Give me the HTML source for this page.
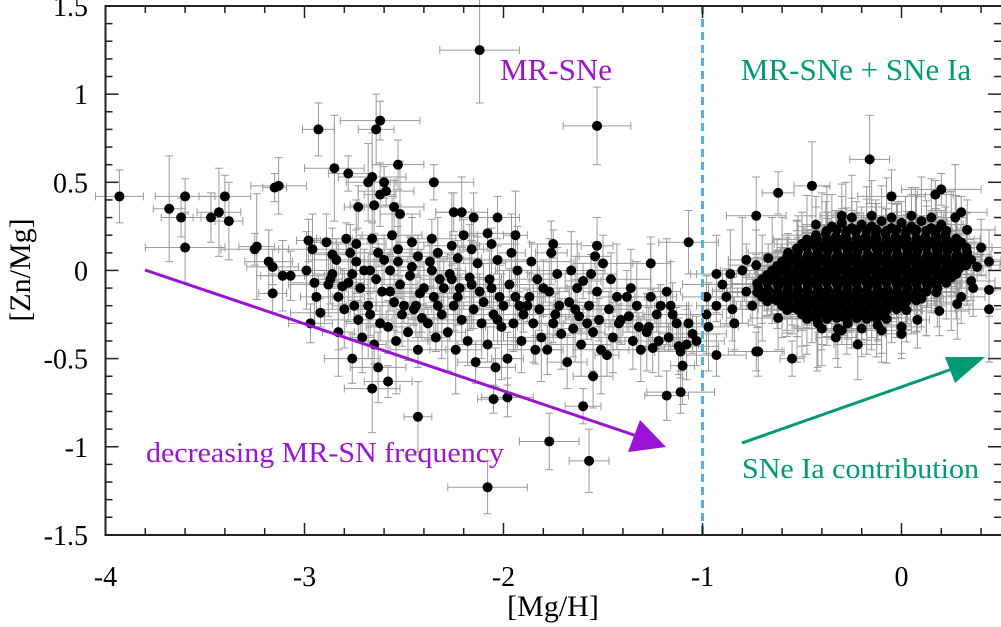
<!DOCTYPE html>
<html><head><meta charset="utf-8"><style>
html,body{margin:0;padding:0;background:#fff;}
svg{display:block;}
text{font-family:"Liberation Serif","Times New Roman",Times,serif;}
</style></head><body>
<svg id="chart" width="1001" height="627" viewBox="0 0 1001 627" xmlns="http://www.w3.org/2000/svg">
<g id="err"></g>
<g id="pts"></g>
<g id="axes"></g>
<g id="ann">
<text x="553" y="616" text-anchor="middle" font-size="30">[Mg/H]</text>
<text transform="translate(30,270) rotate(-90)" text-anchor="middle" font-size="30">[Zn/Mg]</text>
<text x="556" y="80" text-anchor="middle" font-size="31" fill="#9b14d6">MR-SNe</text>
<text x="856" y="80" text-anchor="middle" font-size="31" fill="#009a73">MR-SNe + SNe Ia</text>
<text x="146" y="462" font-size="29" fill="#9b14d6" textLength="358" lengthAdjust="spacingAndGlyphs">decreasing MR-SN frequency</text>
<text x="742" y="478" font-size="29" fill="#009a73" textLength="237" lengthAdjust="spacingAndGlyphs">SNe Ia contribution</text>
<g>
<line x1="145" y1="270" x2="640" y2="437" stroke="#9b14d6" stroke-width="3"/>
<polygon points="666,447 628,452 640,420" fill="#9b14d6"/>
</g>
<g>
<line x1="742" y1="443" x2="958" y2="367" stroke="#009a73" stroke-width="3"/>
<polygon points="985,357 955,383 945,357" fill="#009a73"/>
</g>
</g>
</svg>
<script>
const xTicks=[-4,-3,-2,-1,0];
const yTicks=[1.5,1,0.5,0,-0.5,-1,-1.5];
const yTickLabels=["1.5","1","0.5","0","-0.5","-1","-1.5"];
const metalPoorStars=[[-3.93,0.42],[-3.68,0.35],[-3.6,0.42],[-3.62,0.3],[-3.6,0.13],[-3.47,0.3],[-3.4,0.42],[-3.38,0.28],[-3.43,0.33],[-3.25,0.12],[-3.15,0.47],[-3.13,0.48],[-3.18,0.05],[-2.93,0.8],[-2.85,0.58],[-2.78,0.55],
[-2.62,0.85],[-2.64,0.8],[-2.53,0.6],[-2.73,0.36],[-2.68,0.5],[-2.66,0.53],[-2.6,0.5],[-2.59,0.45],[-2.65,0.37],[-2.62,0.43],[-2.55,0.36],[-2.52,0.32],[-2.35,0.5],[-2.25,0.33],[-2.21,0.33],[-2.15,0.3],[-2.03,0.3],[-1.53,0.82],[-1.94,0.2],[-2.08,0.21],[-1.75,0.15],[-1.53,0.14],[-1.07,0.16],[-1.26,0.04],[-2.12,1.25],
[-1.6,-0.77],[-1.98,-0.72],[-2.43,-0.83],[-1.18,-0.71],[-1.11,-0.69],[-1.1,-0.54],[-2.66,-0.67],[-2.58,-0.63],[-2.05,-0.73],[-1.77,-0.97],[-1.57,-1.08],[-2.08,-1.23],
[-3.24,0.135],[-3.16,0.02],[-3.16,-0.13],[-3.11,-0.03],[-3.07,-0.03],[-2.98,0.17],[-2.99,0.0],[-2.95,-0.07],[-2.94,-0.15],[-2.92,-0.24],[-2.89,0.16],[-2.88,-0.08],[-2.86,0.09],[-2.83,-0.15],[-2.81,-0.09],[-2.97,-0.3],[-2.96,0.12],
[-2.87,-0.05],[-2.84,0.06],[-2.8,-0.22],[-2.83,-0.35],[-2.79,0.18],[-2.86,-0.02],
[-2.77,0.1],[-2.74,0.05],[-2.76,-0.02],[-2.72,-0.1],[-2.75,-0.2],[-2.73,-0.28],[-2.71,-0.38],[-2.76,-0.5],[-2.7,0.0],[-2.78,-0.07],[-2.74,0.15],
[-2.66,0.18],[-2.63,0.1],[-2.67,0.0],[-2.64,-0.05],[-2.61,-0.12],[-2.68,-0.2],[-2.62,-0.3],[-2.65,-0.42],[-2.63,-0.55],[-2.6,0.06],[-2.67,-0.25],
[-2.56,0.2],[-2.53,0.12],[-2.57,0.0],[-2.52,-0.08],[-2.55,-0.18],[-2.51,-0.25],[-2.58,-0.32],[-2.54,-0.4],[-2.5,-0.2],[-2.57,-0.12],[-2.53,0.05],
[-2.46,0.16],[-2.43,0.08],[-2.47,-0.03],[-2.42,-0.13],[-2.45,-0.22],[-2.41,-0.27],[-2.48,-0.35],[-2.44,-0.2],[-2.4,-0.1],[-2.46,0.02],[-2.43,-0.45],
[-2.36,0.18],[-2.33,0.1],[-2.37,0.05],[-2.32,-0.05],[-2.35,-0.15],[-2.31,-0.25],[-2.38,-0.3],[-2.34,-0.38],[-2.3,-0.1],[-2.36,0.0],[-2.33,-0.2],
[-2.26,0.14],[-2.23,0.07],[-2.27,-0.02],[-2.22,-0.1],[-2.25,-0.2],[-2.21,-0.28],[-2.28,-0.35],[-2.24,-0.45],[-2.2,0.2],[-2.26,-0.05],[-2.23,-0.15],
[-2.16,0.12],[-2.13,0.04],[-2.17,-0.04],[-2.12,-0.12],[-2.15,-0.22],[-2.11,-0.3],[-2.18,-0.4],[-2.14,-0.52],[-2.1,-0.18],[-2.16,-0.08],
[-2.06,0.15],[-2.03,0.06],[-2.07,-0.05],[-2.02,-0.15],[-2.05,-0.25],[-2.01,-0.32],[-2.08,-0.42],[-2.04,-0.55],[-2.0,-0.2],[-2.06,-0.1],[-2.03,-0.28],
[-1.96,0.1],[-1.93,0.0],[-1.97,-0.08],[-1.92,-0.2],[-1.95,-0.3],[-1.91,-0.4],[-1.98,-0.5],[-1.94,-0.15],[-1.9,-0.25],
[-1.86,0.05],[-1.83,-0.05],[-1.87,-0.15],[-1.82,-0.22],[-1.85,-0.3],[-1.81,-0.38],[-1.88,-0.2],[-1.84,-0.45],[-1.8,-0.1],
[-1.76,0.1],[-1.73,-0.02],[-1.77,-0.12],[-1.72,-0.2],[-1.75,-0.3],[-1.71,-0.36],[-1.78,-0.45],[-1.74,-0.25],
[-1.66,0.0],[-1.63,-0.1],[-1.67,-0.18],[-1.62,-0.26],[-1.65,-0.33],[-1.61,-0.42],[-1.68,-0.52],[-1.64,-0.22],[-1.6,-0.06],
[-1.56,-0.02],[-1.53,-0.12],[-1.57,-0.2],[-1.52,-0.28],[-1.55,-0.35],[-1.51,-0.45],[-1.58,-0.3],[-1.54,0.08],[-1.5,0.04],[-1.55,-0.6],
[-1.46,-0.05],[-1.43,-0.15],[-1.47,-0.22],[-1.42,-0.3],[-1.45,-0.38],[-1.41,-0.28],[-1.48,-0.48],
[-1.36,-0.1],[-1.33,-0.2],[-1.37,-0.26],[-1.32,-0.32],[-1.35,-0.4],[-1.31,-0.45],[-1.38,-0.15],
[-1.26,-0.15],[-1.23,-0.25],[-1.27,-0.32],[-1.22,-0.4],[-1.25,-0.44],[-1.21,-0.2],[-1.28,-0.35],
[-1.16,-0.2],[-1.13,-0.3],[-1.17,-0.38],[-1.12,-0.43],[-1.15,-0.25],[-1.11,-0.46],[-1.18,-0.12],
[-1.07,-0.3],[-1.05,-0.36],[-1.08,-0.42],[-1.03,-0.4]];
const metalRichStars=[[-0.98,-0.15],[-0.98,-0.25],[-0.97,-0.32],[-0.93,-0.2],[-0.9,-0.08],[-0.88,-0.15],[-0.85,-0.22],[-0.84,-0.3],[-0.8,0.0],[-0.78,-0.12],[-0.75,-0.2],[-0.73,0.03],[-0.72,-0.46],
[-0.62,0.44],[-0.73,0.31],[-0.16,0.63],[0.2,0.46],[0.17,0.43],[0.4,0.13],[0.44,0.05],[0.44,-0.11],[0.44,-0.22],[-0.55,-0.5],[-0.73,-0.46],[-0.22,-0.42],[0.0,-0.36],[-0.93,-0.48],[-0.93,-0.02],[-0.86,-0.02],[-0.78,0.06],[-0.67,0.07],[-0.43,0.26],[-0.3,0.31],[-0.05,0.42],[0.27,0.3],[0.33,0.23],[0.35,-0.06],[0.28,-0.19],[0.19,-0.23],[-0.33,-0.38],[-0.32,-0.33],[-0.45,0.48],[0.3,0.33],[0.38,0.02],[0.36,-0.1],
[-0.35,0.25],[-0.3,0.27],[-0.25,0.24],[-0.2,0.26],[-0.15,0.25],[-0.1,0.28],[-0.05,0.24],[0.0,0.27],[0.05,0.25],[0.1,0.28],[0.15,0.24],[0.2,0.26],
[-0.43,0.2],[-0.38,0.21],[-0.33,0.19],[-0.28,0.2],[-0.23,0.22],[-0.18,0.19],[-0.13,0.2],[-0.08,0.21],[-0.03,0.19],[0.02,0.2],[0.07,0.22],[0.12,0.19],[0.17,0.21],[0.22,0.2],
[-0.5,0.15],[-0.45,0.16],[-0.4,0.14],[-0.35,0.15],[-0.3,0.16],[-0.25,0.14],[-0.2,0.15],[-0.15,0.16],[-0.1,0.14],[-0.05,0.15],[0.0,0.16],[0.05,0.14],[0.1,0.15],[0.15,0.16],[0.2,0.14],[0.25,0.15],[0.3,0.16],
[-0.57,0.1],[-0.52,0.11],[-0.47,0.09],[-0.42,0.1],[-0.37,0.11],[-0.32,0.09],[-0.27,0.1],[-0.22,0.11],[-0.17,0.09],[-0.12,0.1],[-0.07,0.11],[-0.02,0.09],[0.03,0.1],[0.08,0.11],[0.13,0.09],[0.18,0.1],[0.23,0.11],[0.28,0.09],
[-0.6,0.05],[-0.55,0.06],[-0.5,0.04],[-0.45,0.05],[-0.4,0.06],[-0.35,0.04],[-0.3,0.05],[-0.25,0.06],[-0.2,0.04],[-0.15,0.05],[-0.1,0.06],[-0.05,0.04],[0.0,0.05],[0.05,0.06],[0.1,0.04],[0.15,0.05],[0.2,0.06],[0.25,0.04],[0.3,0.05],
[-0.65,0.0],[-0.6,0.01],[-0.55,-0.01],[-0.5,0.0],[-0.45,0.01],[-0.4,-0.01],[-0.35,0.0],[-0.3,0.01],[-0.25,-0.01],[-0.2,0.0],[-0.15,0.01],[-0.1,-0.01],[-0.05,0.0],[0.0,0.01],[0.05,-0.01],[0.1,0.0],[0.15,0.01],[0.2,-0.01],[0.25,0.0],[0.29,0.01],
[-0.7,-0.05],[-0.65,-0.04],[-0.6,-0.06],[-0.55,-0.05],[-0.5,-0.04],[-0.45,-0.06],[-0.4,-0.05],[-0.35,-0.04],[-0.3,-0.06],[-0.25,-0.05],[-0.2,-0.04],[-0.15,-0.06],[-0.1,-0.05],[-0.05,-0.04],[0.0,-0.06],[0.05,-0.05],[0.1,-0.04],[0.15,-0.06],[0.2,-0.05],[0.25,-0.04],
[-0.72,-0.1],[-0.67,-0.11],[-0.62,-0.09],[-0.57,-0.1],[-0.52,-0.11],[-0.47,-0.09],[-0.42,-0.1],[-0.37,-0.11],[-0.32,-0.09],[-0.27,-0.1],[-0.22,-0.11],[-0.17,-0.09],[-0.12,-0.1],[-0.07,-0.11],[-0.02,-0.09],[0.03,-0.1],[0.08,-0.11],[0.13,-0.09],[0.18,-0.1],
[-0.7,-0.15],[-0.65,-0.16],[-0.6,-0.14],[-0.55,-0.15],[-0.5,-0.16],[-0.45,-0.14],[-0.4,-0.15],[-0.35,-0.16],[-0.3,-0.14],[-0.25,-0.15],[-0.2,-0.16],[-0.15,-0.14],[-0.1,-0.15],[-0.05,-0.16],[0.0,-0.14],[0.05,-0.15],[0.1,-0.16],
[-0.6,-0.2],[-0.55,-0.21],[-0.5,-0.19],[-0.45,-0.2],[-0.4,-0.21],[-0.35,-0.19],[-0.3,-0.2],[-0.25,-0.21],[-0.2,-0.19],[-0.15,-0.2],[-0.1,-0.21],[-0.05,-0.19],[0.0,-0.2],
[-0.5,-0.25],[-0.45,-0.26],[-0.4,-0.24],[-0.35,-0.25],[-0.3,-0.26],[-0.25,-0.24],[-0.2,-0.25],[-0.15,-0.26],[-0.1,-0.25],
[-0.42,-0.3],[-0.27,-0.3],[-0.12,-0.31],[0.08,-0.28],[-0.62,-0.27],[0.3,-0.15],[0.33,0.1],[0.35,0.06],
[-0.25,0.3],[-0.15,0.31],[-0.05,0.3],[0.05,0.31],[0.15,0.3],
[-0.375,0.225],[-0.325,0.23],[-0.275,0.225],[-0.225,0.23],[-0.175,0.225],[-0.125,0.23],[-0.075,0.225],[-0.025,0.23],[0.025,0.225],[0.075,0.23],[0.125,0.225],[0.175,0.23],[0.225,0.225],
[-0.475,0.175],[-0.425,0.18],[-0.375,0.175],[-0.325,0.18],[-0.275,0.175],[-0.225,0.18],[-0.175,0.175],[-0.125,0.18],[-0.075,0.175],[-0.025,0.18],[0.025,0.175],[0.075,0.18],[0.125,0.175],[0.175,0.18],[0.225,0.175],[0.275,0.18],
[-0.525,0.125],[-0.475,0.13],[-0.425,0.125],[-0.375,0.13],[-0.325,0.125],[-0.275,0.13],[-0.225,0.125],[-0.175,0.13],[-0.125,0.125],[-0.075,0.13],[-0.025,0.125],[0.025,0.13],[0.075,0.125],[0.125,0.13],[0.175,0.125],[0.225,0.13],[0.275,0.125],[0.325,0.13],
[-0.575,0.075],[-0.525,0.08],[-0.475,0.075],[-0.425,0.08],[-0.375,0.075],[-0.325,0.08],[-0.275,0.075],[-0.225,0.08],[-0.175,0.075],[-0.125,0.08],[-0.075,0.075],[-0.025,0.08],[0.025,0.075],[0.075,0.08],[0.125,0.075],[0.175,0.08],[0.225,0.075],[0.275,0.08],[0.325,0.075],
[-0.625,0.025],[-0.575,0.03],[-0.525,0.025],[-0.475,0.03],[-0.425,0.025],[-0.375,0.03],[-0.325,0.025],[-0.275,0.03],[-0.225,0.025],[-0.175,0.03],[-0.125,0.025],[-0.075,0.03],[-0.025,0.025],[0.025,0.03],[0.075,0.025],[0.125,0.03],[0.175,0.025],[0.225,0.03],[0.275,0.025],[0.325,0.03],
[-0.675,-0.025],[-0.625,-0.02],[-0.575,-0.025],[-0.525,-0.02],[-0.475,-0.025],[-0.425,-0.02],[-0.375,-0.025],[-0.325,-0.02],[-0.275,-0.025],[-0.225,-0.02],[-0.175,-0.025],[-0.125,-0.02],[-0.075,-0.025],[-0.025,-0.02],[0.025,-0.025],[0.075,-0.02],[0.125,-0.025],[0.175,-0.02],[0.225,-0.025],[0.275,-0.02],
[-0.725,-0.075],[-0.675,-0.07],[-0.625,-0.075],[-0.575,-0.07],[-0.525,-0.075],[-0.475,-0.07],[-0.425,-0.075],[-0.375,-0.07],[-0.325,-0.075],[-0.275,-0.07],[-0.225,-0.075],[-0.175,-0.07],[-0.125,-0.075],[-0.075,-0.07],[-0.025,-0.075],[0.025,-0.07],[0.075,-0.075],[0.125,-0.07],[0.175,-0.075],[0.225,-0.07],
[-0.725,-0.125],[-0.675,-0.12],[-0.625,-0.125],[-0.575,-0.12],[-0.525,-0.125],[-0.475,-0.12],[-0.425,-0.125],[-0.375,-0.12],[-0.325,-0.125],[-0.275,-0.12],[-0.225,-0.125],[-0.175,-0.12],[-0.125,-0.125],[-0.075,-0.12],[-0.025,-0.125],[0.025,-0.12],[0.075,-0.125],[0.125,-0.12],[0.175,-0.125],
[-0.675,-0.175],[-0.625,-0.17],[-0.575,-0.175],[-0.525,-0.17],[-0.475,-0.175],[-0.425,-0.17],[-0.375,-0.175],[-0.325,-0.17],[-0.275,-0.175],[-0.225,-0.17],[-0.175,-0.175],[-0.125,-0.17],[-0.075,-0.175],[-0.025,-0.17],[0.025,-0.175],[0.075,-0.17],
[-0.575,-0.225],[-0.525,-0.22],[-0.475,-0.225],[-0.425,-0.22],[-0.375,-0.225],[-0.325,-0.22],[-0.275,-0.225],[-0.225,-0.22],[-0.175,-0.225],[-0.125,-0.22],[-0.075,-0.225],[-0.025,-0.22],[0.025,-0.225],
[-0.475,-0.275],[-0.425,-0.27],[-0.375,-0.275],[-0.325,-0.27],[-0.275,-0.275],[-0.225,-0.27],[-0.175,-0.275],[-0.125,-0.27],[-0.075,-0.275],
[-0.4,-0.33],[-0.3,-0.34],[-0.2,-0.33],[-0.1,-0.34],[0.0,-0.32]];
const errX=[0.12,0.08,0.15,0.1,0.2,0.09,0.13,0.07,0.11,0.17,0.06,0.14];
const errY=[0.15,0.1,0.2,0.12,0.25,0.08,0.18,0.3,0.11,0.14,0.22,0.09,0.16];

const NS="http://www.w3.org/2000/svg";
const X0=105.5,X1=1001,Y0=6,Y1=535;
function sx(v){return X0+(v+4)*199;}
function sy(v){return Y0+(1.5-v)*176.3;}
function mk(tag,attrs,parent){const e=document.createElementNS(NS,tag);for(const k in attrs)e.setAttribute(k,attrs[k]);parent.appendChild(e);return e;}
const gErr=document.getElementById('err'),gPts=document.getElementById('pts'),gAx=document.getElementById('axes');
const all=metalPoorStars.concat(metalRichStars);
all.forEach((p,i)=>{
  const ex=errX[i%errX.length],ey=errY[(i*7)%errY.length];
  const cx=sx(p[0]),cy=sy(p[1]);
  const g=mk('g',{stroke:'#9a9a9a','stroke-width':1,fill:'none'},gErr);
  
  
  const x1=sx(p[0]-ex),x2=sx(p[0]+ex),y1=sy(p[1]+ey),y2=sy(p[1]-ey);
  mk('line',{x1:x1,y1:cy,x2:x2,y2:cy},g);
  mk('line',{x1:cx,y1:y1,x2:cx,y2:y2},g);
  mk('line',{x1:x1,y1:cy-4,x2:x1,y2:cy+4},g);
  mk('line',{x1:x2,y1:cy-4,x2:x2,y2:cy+4},g);
  mk('line',{x1:cx-4,y1:y1,x2:cx+4,y2:y1},g);
  mk('line',{x1:cx-4,y1:y2,x2:cx+4,y2:y2},g);
});
all.forEach(p=>{
  const c=mk('circle',{cx:sx(p[0]),cy:sy(p[1]),r:5,fill:'#000'},gPts);
  
  
});
const dl=mk('line',{x1:sx(-1),y1:Y0,x2:sx(-1),y2:Y1,stroke:'#4fb1ea','stroke-width':3,'stroke-dasharray':'8,5'},gAx);


const fr=mk('rect',{x:X0,y:Y0,width:X1-X0+2,height:Y1-Y0,fill:'none',stroke:'#222','stroke-width':2},gAx);


for(let k=0;k<=22;k++){const v=-4+k*0.2;const px=sx(v);if(px>X1)break;const major=Math.abs(v-Math.round(v))<1e-6;const L=major?12:7;
  mk('line',{x1:px,y1:Y1,x2:px,y2:Y1-L,stroke:'#222','stroke-width':1.5},gAx);
  mk('line',{x1:px,y1:Y0,x2:px,y2:Y0+L,stroke:'#222','stroke-width':1.5},gAx);}
xTicks.forEach(v=>{const t=mk('text',{x:sx(v),y:586,'text-anchor':'middle','font-size':28,fill:'#000'},gAx);t.textContent=String(v);
  
  });
for(let k=0;k<=30;k++){const v=1.5-k*0.1;const py=sy(v);const major=Math.abs(v*2-Math.round(v*2))<1e-6;const L=major?13:7;
  mk('line',{x1:X0,y1:py,x2:X0+L,y2:py,stroke:'#222','stroke-width':1.5},gAx);
  mk('line',{x1:X1,y1:py,x2:X1-L,y2:py,stroke:'#222','stroke-width':1.5},gAx);}
yTicks.forEach((v,i)=>{const t=mk('text',{x:88,y:sy(v)+10,'text-anchor':'end','font-size':28,fill:'#000'},gAx);t.textContent=yTickLabels[i];
  
  });
</script>
</body></html>
